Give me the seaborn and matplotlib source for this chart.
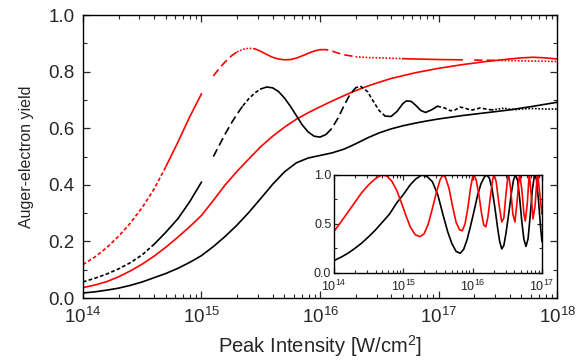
import numpy as np
import matplotlib
matplotlib.use("Agg")
from matplotlib import pyplot as plt
from matplotlib import ticker
import seaborn as sns

# main panel: log10 of peak intensity and yield
black_lo_exp = [14.0, 14.1, 14.2, 14.3, 14.4, 14.5, 14.6, 14.7, 14.8, 14.9, 15.0, 15.1, 15.2,
                15.3, 15.4, 15.5, 15.6, 15.7, 15.8, 15.9, 16.0, 16.1, 16.2, 16.3, 16.4, 16.5,
                16.6, 16.7, 16.8, 16.9, 17.0, 17.2, 17.4, 17.6, 17.8, 18.0]
black_lo_yield = [0.018, 0.022, 0.028, 0.035, 0.045, 0.057, 0.072, 0.087, 0.105, 0.126, 0.15,
                  0.182, 0.218, 0.258, 0.303, 0.352, 0.402, 0.446, 0.478, 0.495, 0.504, 0.513,
                  0.526, 0.545, 0.566, 0.584, 0.598, 0.609, 0.618, 0.626, 0.633, 0.645, 0.655,
                  0.665, 0.678, 0.692]

red_lo_exp = [14.0, 14.1, 14.2, 14.3, 14.4, 14.5, 14.6, 14.7, 14.8, 14.9, 15.0, 15.1, 15.2,
              15.3, 15.4, 15.5, 15.6, 15.7, 15.8, 15.9, 16.0, 16.1, 16.2, 16.3, 16.4, 16.5,
              16.6, 16.8, 17.0, 17.2, 17.4, 17.6, 17.7, 17.8, 17.9, 18.0]
red_lo_yield = [0.037, 0.046, 0.058, 0.075, 0.096, 0.12, 0.148, 0.18, 0.215, 0.252, 0.292,
                0.345, 0.40, 0.448, 0.492, 0.535, 0.572, 0.604, 0.632, 0.655, 0.676, 0.696,
                0.715, 0.733, 0.749, 0.763, 0.776, 0.796, 0.812, 0.825, 0.836, 0.845, 0.849,
                0.851, 0.849, 0.845]

black_osc_exp = [14.0, 14.1, 14.2, 14.3, 14.4, 14.5, 14.6, 14.7, 14.8, 14.9, 15.0, 15.05, 15.1,
                 15.15, 15.2, 15.25, 15.3, 15.35, 15.4, 15.45, 15.5, 15.55, 15.6, 15.65, 15.7,
                 15.75, 15.8, 15.85, 15.9, 15.95, 16.0, 16.05, 16.1, 16.15, 16.2, 16.25, 16.3,
                 16.34, 16.4, 16.45, 16.5, 16.55, 16.6, 16.65, 16.7, 16.73, 16.77, 16.81, 16.85,
                 16.89, 16.94, 16.99, 17.05, 17.1, 17.14, 17.18, 17.22, 17.27, 17.31, 17.35,
                 17.4, 17.45, 17.5, 17.55, 17.6, 17.65, 17.72, 17.8, 17.9, 18.0]
black_osc_yield = [0.057, 0.07, 0.085, 0.103, 0.125, 0.153, 0.19, 0.233, 0.28, 0.34, 0.41,
                   0.455, 0.5, 0.54, 0.58, 0.617, 0.65, 0.68, 0.705, 0.725, 0.739, 0.746, 0.743,
                   0.73, 0.707, 0.678, 0.645, 0.612, 0.587, 0.572, 0.569, 0.578, 0.60, 0.635,
                   0.678, 0.718, 0.743, 0.749, 0.73, 0.695, 0.662, 0.643, 0.642, 0.66, 0.688,
                   0.697, 0.695, 0.68, 0.663, 0.656, 0.665, 0.678, 0.672, 0.662, 0.665, 0.675,
                   0.672, 0.664, 0.667, 0.672, 0.668, 0.665, 0.668, 0.671, 0.668, 0.666, 0.669,
                   0.670, 0.668, 0.668]

red_osc_exp = [14.0, 14.1, 14.2, 14.3, 14.4, 14.5, 14.6, 14.7, 14.8, 14.9, 15.0, 15.05, 15.1,
               15.15, 15.2, 15.25, 15.3, 15.35, 15.4, 15.45, 15.5, 15.55, 15.6, 15.65, 15.7,
               15.75, 15.8, 15.85, 15.9, 15.95, 16.0, 16.05, 16.1, 16.15, 16.2, 16.3, 16.4,
               16.5, 16.7, 17.0, 17.2, 17.3, 17.5, 17.75, 18.0]
red_osc_yield = [0.118, 0.145, 0.178, 0.218, 0.265, 0.32, 0.385, 0.465, 0.55, 0.64, 0.722,
                 0.755, 0.785, 0.812, 0.835, 0.855, 0.870, 0.879, 0.883, 0.881, 0.872, 0.861,
                 0.851, 0.845, 0.842, 0.843, 0.848, 0.856, 0.865, 0.873, 0.878, 0.878, 0.873,
                 0.866, 0.86, 0.853, 0.85, 0.849, 0.846, 0.843, 0.842, 0.841, 0.84, 0.838,
                 0.836]

# inset
inset_red_exp = [14.0, 14.1, 14.2, 14.3, 14.4, 14.5, 14.6, 14.69, 14.76, 14.83, 14.9, 14.97,
                 15.04, 15.1, 15.17, 15.24, 15.3, 15.36, 15.42, 15.48, 15.53, 15.57, 15.61,
                 15.66, 15.71, 15.76, 15.81, 15.85, 15.89, 15.93, 15.97, 16.0, 16.02, 16.05,
                 16.09, 16.13, 16.16, 16.19, 16.22, 16.26, 16.29, 16.31, 16.34, 16.38, 16.42,
                 16.45, 16.48, 16.51, 16.52, 16.55, 16.58, 16.61, 16.64, 16.67, 16.68, 16.71,
                 16.74, 16.76, 16.79, 16.81, 16.82, 16.85, 16.87, 16.9, 16.93, 16.94, 16.97,
                 17.0]
inset_red_val = [0.425, 0.52, 0.62, 0.72, 0.82, 0.9, 0.965, 1.0, 0.99, 0.94, 0.85, 0.72,
                 0.58, 0.47, 0.39, 0.37, 0.4, 0.5, 0.66, 0.83, 0.95, 1.0, 0.97,
                 0.86, 0.68, 0.52, 0.44, 0.43, 0.5, 0.66, 0.87, 0.98, 1.0, 0.95,
                 0.8, 0.6, 0.49, 0.47, 0.57, 0.8, 0.96, 1.0, 0.93, 0.7, 0.52,
                 0.56, 0.8, 0.99, 1.0, 0.85, 0.6, 0.52, 0.72, 0.97, 1.0, 0.85,
                 0.6, 0.53, 0.72, 0.95, 1.0, 0.75, 0.55, 0.68, 0.98, 1.0, 0.8,
                 0.6]

inset_black_exp = [14.0, 14.1, 14.2, 14.3, 14.4, 14.5, 14.6, 14.7, 14.8, 14.9, 15.0, 15.1,
                   15.18, 15.27, 15.35, 15.42, 15.5, 15.57, 15.64, 15.7, 15.76, 15.82, 15.87,
                   15.92, 15.97, 16.02, 16.07, 16.12, 16.17, 16.2, 16.24, 16.28, 16.32, 16.36,
                   16.39, 16.42, 16.45, 16.48, 16.52, 16.56, 16.59, 16.62, 16.65, 16.68, 16.71,
                   16.74, 16.77, 16.8, 16.83, 16.86, 16.89, 16.9, 16.92, 16.95, 16.98, 17.0]
inset_black_val = [0.126, 0.16, 0.2, 0.25, 0.305, 0.37, 0.44, 0.52, 0.6, 0.71, 0.8, 0.9,
                   0.96, 1.0, 0.98, 0.93, 0.79, 0.6, 0.42, 0.3, 0.22, 0.2, 0.24,
                   0.34, 0.48, 0.63, 0.79, 0.91, 0.98, 1.0, 0.97, 0.86, 0.67, 0.46,
                   0.32, 0.245, 0.28, 0.4, 0.6, 0.82, 0.95, 1.0, 0.94, 0.75, 0.52,
                   0.34, 0.27, 0.35, 0.58, 0.84, 0.99, 1.0, 0.96, 0.74, 0.47, 0.32]

main_xticks = [1e14, 1e15, 1e16, 1e17, 1e18]
inset_xticks = [1e14, 1e15, 1e16, 1e17]

# line style pieces (range of log10 intensity, dash pattern)
dash_short = (0, (2.2, 1.4))
dash_long = (0, (5, 2.5))
dot = (0, (1, 1))
red_osc_styles = [(14.0, 14.7, dash_short), (14.7, 15.0, "-"), (15.1, 15.3, dash_long),
                  (15.3, 15.45, dot), (15.45, 16.0, "-"), (16.0, 16.3, dash_long),
                  (16.3, 16.7, dot), (16.7, 17.2, "-"), (17.3, 17.5, dash_long),
                  (17.5, 18.0, dot)]
black_osc_styles = [(14.0, 14.6, dash_short), (14.6, 15.0, "-"), (15.1, 15.35, dash_long),
                    (15.35, 15.5, dash_short), (15.5, 16.05, "-"), (16.05, 16.34, dash_long),
                    (16.34, 16.55, dash_short), (16.55, 16.99, "-"), (16.99, 17.45, dash_short),
                    (17.45, 18.0, dot)]


def draw_pieces(ax, exps, vals, styles, color):
    exps = np.array(exps)
    vals = np.array(vals)
    for lo, hi, ls in styles:
        m = (exps >= lo - 1e-9) & (exps <= hi + 1e-9)
        sns.lineplot(x=10.0 ** exps[m], y=vals[m], ax=ax, color=color, linestyle=ls,
                     linewidth=1.2, estimator=None, sort=False)


def style_axes(ax, fs, maj, mino):
    ax.tick_params(which="both", direction="in", top=True, right=True, labelsize=fs)
    ax.tick_params(which="major", length=maj, width=0.9)
    ax.tick_params(which="minor", length=mino, width=0.8)
    for s in ax.spines.values():
        s.set_linewidth(1.0)
        s.set_color("black")


sns.set_theme(style="ticks")
plt.rcParams["font.family"] = ["Liberation Sans", "DejaVu Sans"]
plt.rcParams["mathtext.default"] = "regular"

fig = plt.figure(figsize=(5.84, 3.6), dpi=100)
ax = fig.add_axes([0.142, 0.172, 0.812, 0.786])

sns.lineplot(x=10.0 ** np.array(black_lo_exp), y=black_lo_yield, ax=ax, color="black",
             linewidth=1.2, estimator=None, sort=False)
sns.lineplot(x=10.0 ** np.array(red_lo_exp), y=red_lo_yield, ax=ax, color="red",
             linewidth=1.2, estimator=None, sort=False)
draw_pieces(ax, black_osc_exp, black_osc_yield, black_osc_styles, "black")
draw_pieces(ax, red_osc_exp, red_osc_yield, red_osc_styles, "red")

ax.set_xscale("log")
ax.set_xlim(1e14, 1e18)
ax.set_ylim(0, 1)
ax.set_xticks(main_xticks)
ax.xaxis.set_major_formatter(ticker.LogFormatterSciNotation())
ax.xaxis.set_minor_locator(ticker.LogLocator(base=10, subs=np.arange(2, 10), numticks=20))
ax.xaxis.set_minor_formatter(ticker.NullFormatter())
ax.yaxis.set_major_locator(ticker.MultipleLocator(0.2))
ax.yaxis.set_minor_locator(ticker.MultipleLocator(0.1))
ax.yaxis.set_major_formatter(ticker.FormatStrFormatter("%.1f"))
style_axes(ax, 13.5, 5, 3)
ax.tick_params(axis="x", pad=6)
ax.tick_params(axis="y", pad=6)
ax.set_xlabel("Peak Intensity [W/cm$^2$]", fontsize=14.5, labelpad=5)
ax.set_ylabel("Auger-electron yield", fontsize=11.5, labelpad=10)

# inset
axi = fig.add_axes([0.572, 0.242, 0.356, 0.272])
sns.lineplot(x=10.0 ** np.array(inset_black_exp), y=inset_black_val, ax=axi, color="black",
             linewidth=1.2, estimator=None, sort=False)
sns.lineplot(x=10.0 ** np.array(inset_red_exp), y=inset_red_val, ax=axi, color="red",
             linewidth=1.2, estimator=None, sort=False)
axi.set_xscale("log")
axi.set_xlim(1e14, 1e17)
axi.set_ylim(0, 1)
axi.set_xticks(inset_xticks)
axi.xaxis.set_major_formatter(ticker.LogFormatterSciNotation())
axi.xaxis.set_minor_locator(ticker.LogLocator(base=10, subs=np.arange(2, 10), numticks=20))
axi.xaxis.set_minor_formatter(ticker.NullFormatter())
axi.yaxis.set_major_locator(ticker.MultipleLocator(0.5))
axi.yaxis.set_minor_locator(ticker.MultipleLocator(0.25))
axi.yaxis.set_major_formatter(ticker.FormatStrFormatter("%.1f"))
style_axes(axi, 9, 3.5, 2)
axi.tick_params(axis="x", pad=4.5)
axi.tick_params(axis="y", pad=2)
axi.set_xlabel("")
axi.set_ylabel("")
axi.patch.set_facecolor("white")

fig.savefig("out.png", dpi=100)
